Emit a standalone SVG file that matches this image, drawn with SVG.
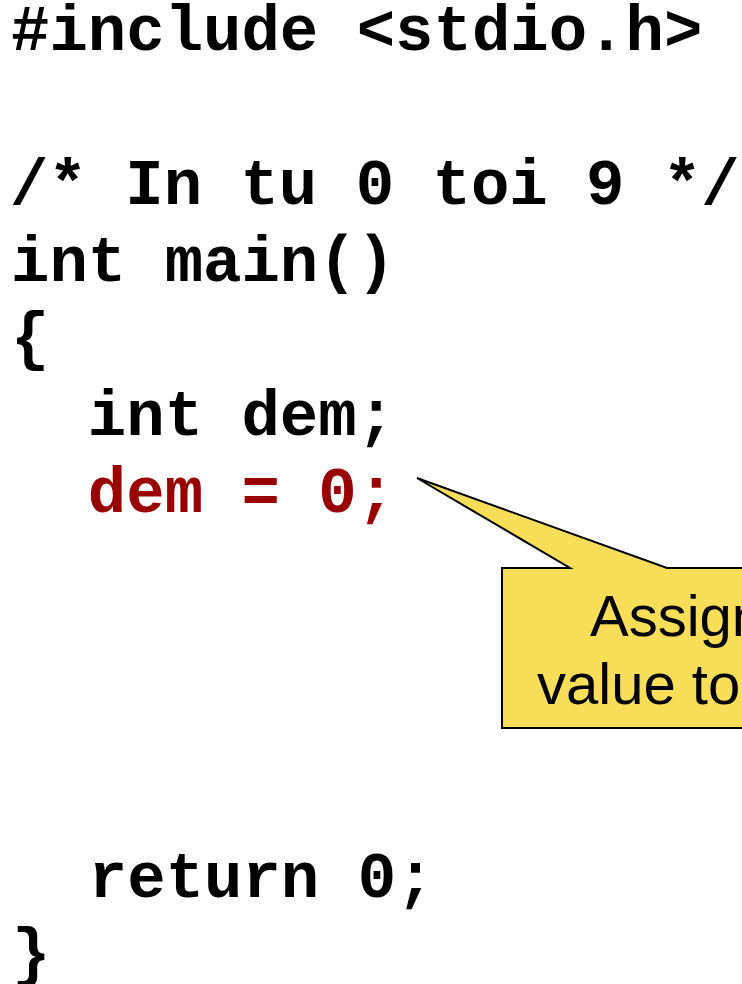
<svg xmlns="http://www.w3.org/2000/svg" width="742" height="984" viewBox="0 0 742 984">
<style>
.code{font-family:"Liberation Mono","Courier New",monospace;font-weight:bold;font-size:64px;fill:#000}
.red{fill:#990000}
.call{font-family:"Liberation Sans",Arial,sans-serif;font-size:58px;fill:#000}
</style>
<rect width="742" height="984" fill="#fff"/>
<g id="code">
<text class="code" x="11" y="50">#include &lt;stdio.h&gt;</text>
<text class="code" x="10" y="204">/* In tu 0 toi 9 */</text>
<text class="code" x="11" y="281">int main()</text>
<text class="code" x="11" y="358">{</text>
<text class="code" x="11" y="435" xml:space="preserve">  int dem;</text>
<text class="code red" x="11" y="512" xml:space="preserve">  dem = 0;</text>
<text class="code" x="12" y="897" xml:space="preserve">  return 0;</text>
<text class="code" x="12" y="974">}</text>
</g>
<g id="callout">
<path d="M502,568 L570,568 L417,478 L667,568 L760,568 L760,728 L502,728 Z" fill="#F9DE59" stroke="#000" stroke-width="2" stroke-linejoin="miter"/>
<text class="call" x="590" y="636">Assign</text>
<text class="call" x="537" y="704">value to</text>
</g>
</svg>
